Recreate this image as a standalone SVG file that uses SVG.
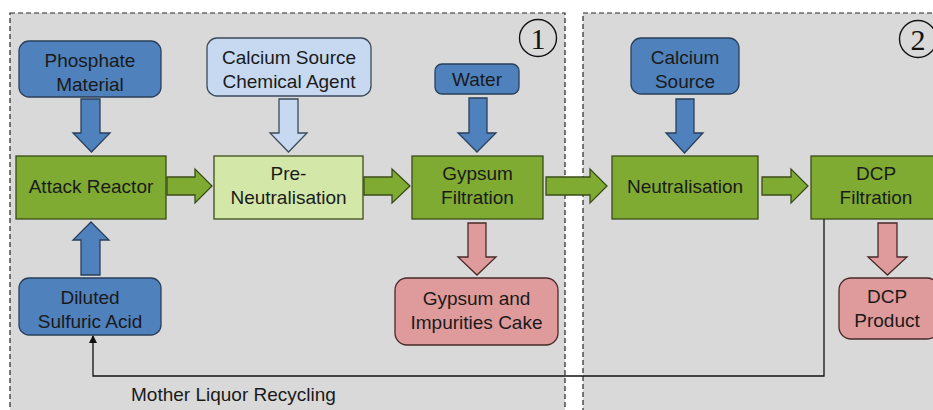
<svg xmlns="http://www.w3.org/2000/svg" width="933" height="410" viewBox="0 0 933 410">
<defs>
<style>
.panel{fill:#d9d9d9;stroke:#262626;stroke-width:1.2;stroke-dasharray:5,3}
.t{font-family:"Liberation Sans",Arial,sans-serif;font-size:19px;fill:#1a1a1a;text-anchor:middle}
.blue{fill:#4f81bd;stroke:#2a3f5a;stroke-width:1.3}
.lblue{fill:#c6d9f1;stroke:#3b4a5a;stroke-width:1.3}
.green{fill:#7fab32;stroke:#3a4d18;stroke-width:1.3}
.lgreen{fill:#d3e8a8;stroke:#3a4d18;stroke-width:1.3}
.pink{fill:#df9b9b;stroke:#4a2a2a;stroke-width:1.3}
.num{font-family:"Liberation Serif","Times New Roman",serif;font-size:30px;fill:#111;text-anchor:middle}
</style>
<marker id="ah" markerWidth="8" markerHeight="8" refX="7" refY="4" orient="auto" markerUnits="userSpaceOnUse">
<path d="M0,0 L8,4 L0,8 z" fill="#111"/>
</marker>
</defs>
<rect width="933" height="410" fill="#ffffff"/>
<g id="panel1">
<rect class="panel" x="10" y="13" width="555" height="410"/>
<circle cx="538" cy="38" r="18.5" fill="none" stroke="#111" stroke-width="1.4"/>
<text class="num" x="538" y="48.5">1</text>
</g>
<g id="panel2">
<rect class="panel" x="583" y="13" width="370" height="410"/>
<circle cx="918" cy="39" r="18.5" fill="none" stroke="#111" stroke-width="1.4"/>
<text class="num" x="918" y="49.5">2</text>
</g>

<g id="connectors">
<path class="blue" d="M81,99 H100 V133 H110 L91.5,152 L73,133 H81 Z"/>
<path class="lblue" d="M279,99 H298 V133 H307 L288.5,152 L270,133 H279 Z"/>
<path class="blue" d="M469,98 H487 V133 H496 L477,152 L458,133 H469 Z"/>
<path class="blue" d="M676,99 H694 V133 H703 L684.5,153 L666,133 H676 Z"/>
<path class="pink" d="M468,223 H486 V257 H496 L477,275 L458,257 H468 Z"/>
<path class="pink" d="M878,223 H897 V257 H907 L887.5,275 L868,257 H878 Z"/>
<path class="blue" d="M81,275 H100 V240 H109 L91,222 L73,240 H81 Z"/>
<path class="green" d="M167,177 H195 V169 L212,186 L195,203 V195 H167 Z"/>
<path class="green" d="M364,177 H392 V169 L410,186 L392,203 V195 H364 Z"/>
<path class="green" d="M546,177 H590 V169 L607,186 L590,203 V195 H546 Z"/>
<path class="green" d="M762,177 H791 V169 L808,186 L791,203 V195 H762 Z"/>
<path d="M824,219 V376 H93 V336" fill="none" stroke="#111" stroke-width="1.3" marker-end="url(#ah)"/>
</g>

<g id="phosphate">
<rect class="blue" x="19" y="41" width="142" height="56" rx="10"/>
<text class="t" x="90" y="67">Phosphate</text>
<text class="t" x="90" y="91">Material</text>
</g>
<g id="calcium-agent">
<rect class="lblue" x="207" y="38" width="164" height="58" rx="10"/>
<text class="t" x="289" y="64">Calcium Source</text>
<text class="t" x="289" y="88">Chemical Agent</text>
</g>
<g id="water">
<rect class="blue" x="435" y="64" width="84" height="30" rx="7"/>
<text class="t" x="477" y="86">Water</text>
</g>
<g id="calcium-source">
<rect class="blue" x="631" y="38" width="108" height="56" rx="10"/>
<text class="t" x="685" y="64">Calcium</text>
<text class="t" x="685" y="88">Source</text>
</g>
<g id="attack-reactor">
<rect class="green" x="16" y="156" width="150" height="63"/>
<text class="t" x="91" y="193">Attack Reactor</text>
</g>
<g id="pre-neutralisation">
<rect class="lgreen" x="214" y="156" width="149" height="63"/>
<text class="t" x="288.5" y="180">Pre-</text>
<text class="t" x="288.5" y="204">Neutralisation</text>
</g>
<g id="gypsum-filtration">
<rect class="green" x="412" y="156" width="131" height="63"/>
<text class="t" x="477.5" y="180">Gypsum</text>
<text class="t" x="477.5" y="204">Filtration</text>
</g>
<g id="neutralisation">
<rect class="green" x="612" y="156" width="146" height="63"/>
<text class="t" x="685" y="193">Neutralisation</text>
</g>
<g id="dcp-filtration">
<rect class="green" x="811" y="156" width="131" height="63"/>
<text class="t" x="876" y="180">DCP</text>
<text class="t" x="876" y="204">Filtration</text>
</g>
<g id="gypsum-cake">
<rect class="pink" x="395" y="278" width="163" height="67" rx="12"/>
<text class="t" x="476.5" y="305">Gypsum and</text>
<text class="t" x="476.5" y="329">Impurities Cake</text>
</g>
<g id="dcp-product">
<rect class="pink" x="839" y="278" width="100" height="61" rx="12"/>
<text class="t" x="887" y="303">DCP</text>
<text class="t" x="887" y="327">Product</text>
</g>
<g id="diluted-acid">
<rect class="blue" x="19" y="278" width="142" height="57" rx="10"/>
<text class="t" x="90" y="304">Diluted</text>
<text class="t" x="90" y="328">Sulfuric Acid</text>
</g>
<text class="t" x="131" y="401" style="text-anchor:start">Mother Liquor Recycling</text>
</svg>
